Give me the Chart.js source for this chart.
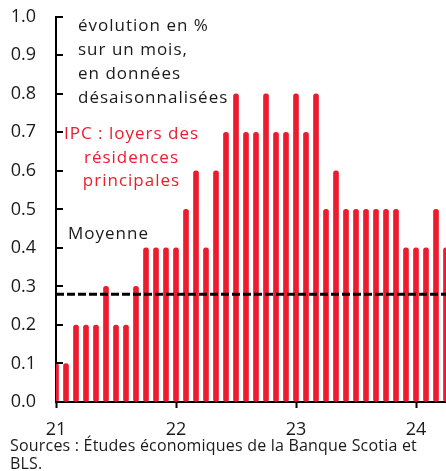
<!DOCTYPE html>
<html>
<head>
<meta charset="utf-8">
<script src="https://cdn.jsdelivr.net/npm/chart.js@4.4.1/dist/chart.umd.min.js"></script>
<style>
  html, body { margin: 0; padding: 0; background: #fff; }
  #wrap { position: relative; width: 446px; height: 471px; overflow: hidden; font-family: "Open Sans", sans-serif; }
  #c { position: absolute; left: 0; top: -14px; }
  .note { position: absolute; white-space: nowrap; font-size: 17px; line-height: 24px; color: #1a1a1a; letter-spacing: 1px; }
  #red { color: #EC1B2E; text-align: center; width: 201px; left: 31px; top: 121px; line-height: 23.5px; }
  #desc { left: 78px; top: 13px; }
  #moy { left: 68px; top: 221px; }
  #src { position: absolute; left: 10px; top: 436px; font-size: 16px; line-height: 18px; color: #1a1a1a; white-space: nowrap; letter-spacing: 0.2px; }
</style>
</head>
<body>
<div id="wrap">
  <canvas id="c" width="446" height="485"></canvas>
  <div class="note" id="desc">évolution en %<br>sur un mois,<br>en données<br>désaisonnalisées</div>
  <div class="note" id="red">IPC : loyers des<br>résidences<br>principales</div>
  <div class="note" id="moy">Moyenne</div>
  <div id="src">Sources : Études économiques de la Banque Scotia et<br>BLS.</div>
</div>
<script>
// Months from Dec 2020 to Mar 2024
const months = [
  '2020-12',
  '2021-01','2021-02','2021-03','2021-04','2021-05','2021-06','2021-07','2021-08','2021-09','2021-10','2021-11','2021-12',
  '2022-01','2022-02','2022-03','2022-04','2022-05','2022-06','2022-07','2022-08','2022-09','2022-10','2022-11','2022-12',
  '2023-01','2023-02','2023-03','2023-04','2023-05','2023-06','2023-07','2023-08','2023-09','2023-10','2023-11','2023-12',
  '2024-01','2024-02','2024-03'
];
const rentCPI = [
  0.1,
  0.1, 0.2, 0.2, 0.2, 0.3, 0.2, 0.2, 0.3, 0.4, 0.4, 0.4, 0.4,
  0.5, 0.6, 0.4, 0.6, 0.7, 0.8, 0.7, 0.7, 0.8, 0.7, 0.7, 0.8,
  0.7, 0.8, 0.5, 0.6, 0.5, 0.5, 0.5, 0.5, 0.5, 0.5, 0.4, 0.4,
  0.4, 0.5, 0.4
];
const average = 0.28;
const yearTickIndex = [0, 12, 24, 36];
const yearTickLabels = ['21', '22', '23', '24'];
const yTicks = [0, 0.1, 0.2, 0.3, 0.4, 0.5, 0.6, 0.7, 0.8, 0.9, 1.0];

const RED = '#EC1B2E';
const FONT = '"Open Sans", sans-serif';

const barData = rentCPI.map((v, i) => ({ x: i, y: v }));
const avgData = [{ x: 0, y: average }, { x: months.length - 1, y: average }];

const innerTicks = {
  id: 'innerTicks',
  afterDraw(chart) {
    const ctx = chart.ctx;
    const y = chart.scales.y;
    const x0 = chart.chartArea.left;
    ctx.save();
    ctx.strokeStyle = '#000';
    ctx.lineWidth = 2;
    yTicks.forEach(v => {
      const py = Math.round(y.getPixelForValue(v));
      ctx.beginPath();
      ctx.moveTo(x0, py);
      ctx.lineTo(x0 + 7, py);
      ctx.stroke();
    });
    ctx.restore();
  }
};

new Chart(document.getElementById('c'), {
  type: 'bar',
  data: {
    datasets: [
      {
        type: 'line',
        label: 'Moyenne',
        data: avgData,
        borderColor: '#000',
        borderWidth: 3,
        borderDash: [8, 3],
        pointRadius: 0,
        fill: false,
        order: 1
      },
      {
        type: 'bar',
        label: 'IPC : loyers des résidences principales',
        data: barData,
        backgroundColor: RED,
        barThickness: 5,
        borderRadius: 2.5,
        borderSkipped: false,
        order: 2
      }
    ]
  },
  options: {
    responsive: false,
    animation: false,
    layout: { padding: { top: 1, right: 0, left: 0, bottom: 0 } },
    plugins: { legend: { display: false }, tooltip: { enabled: false } },
    scales: {
      x: {
        type: 'linear',
        min: 0,
        max: months.length - 1,
        offset: false,
        afterBuildTicks: (s) => { s.ticks = yearTickIndex.map(v => ({ value: v })); },
        afterFit: (s) => { s.height = 69; },
        border: { color: '#000', width: 2 },
        grid: { drawOnChartArea: false, drawTicks: true, tickLength: 6, tickColor: '#000', tickWidth: 2, offset: false },
        ticks: {
          autoSkip: false,
          maxRotation: 0,
          padding: 11,
          color: '#1a1a1a',
          font: { family: FONT, size: 18 },
          callback: (v) => { const k = yearTickIndex.indexOf(v); return k >= 0 ? yearTickLabels[k] : ''; }
        }
      },
      y: {
        min: 0,
        max: 1,
        afterBuildTicks: (s) => { s.ticks = yTicks.map(v => ({ value: v })); },
        afterFit: (s) => { s.width = 56; },
        border: { color: '#000', width: 2 },
        grid: { drawOnChartArea: false, drawTicks: false },
        ticks: {
          padding: 20,
          color: '#1a1a1a',
          font: { family: FONT, size: 18 },
          callback: (v) => v.toFixed(1)
        }
      }
    }
  },
  plugins: [innerTicks]
});
</script>
</body>
</html>
